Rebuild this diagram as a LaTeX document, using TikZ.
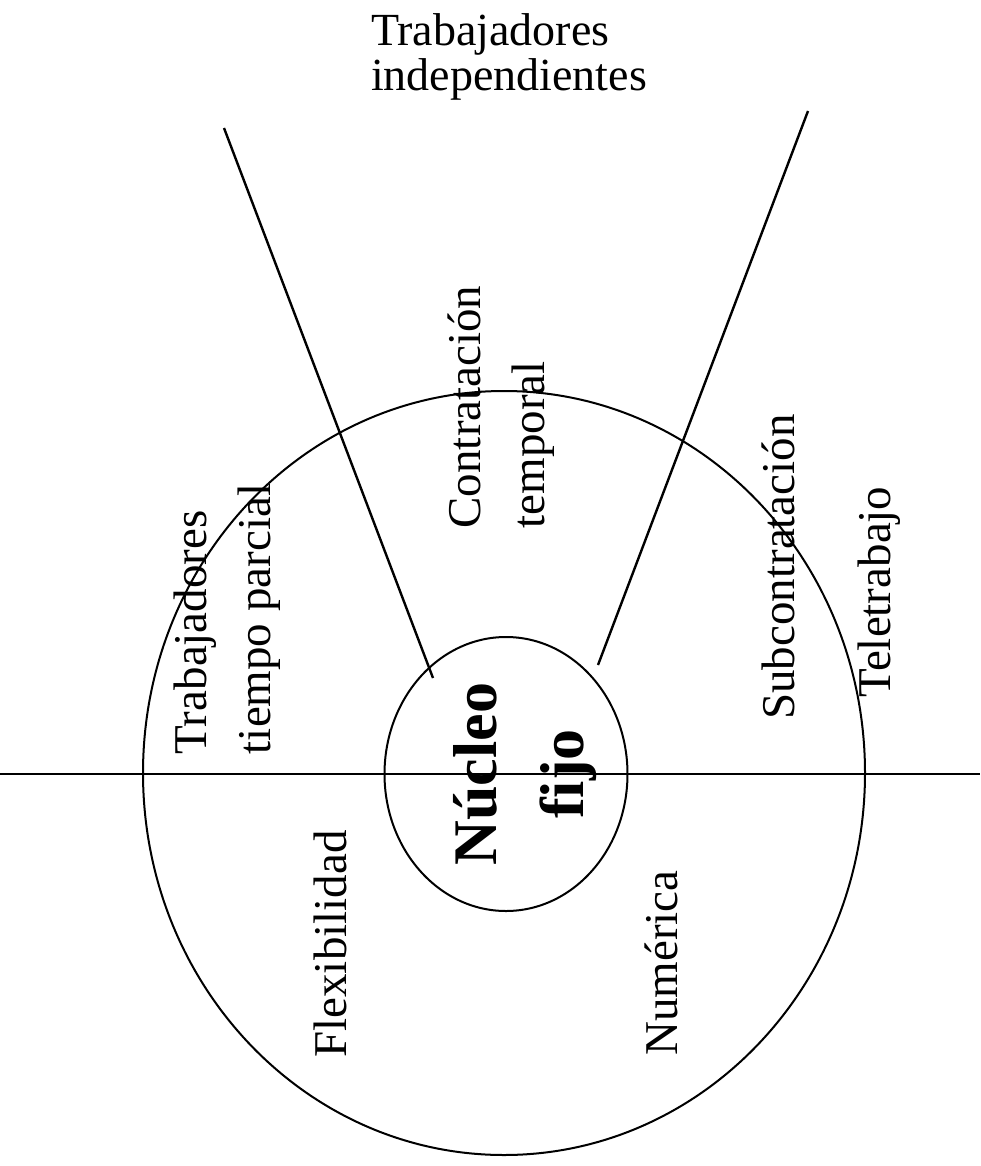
\documentclass[tikz,border=0pt]{standalone}
\usepackage{fontspec}
\setmainfont{Liberation Serif}
\usetikzlibrary{shapes.geometric}
\tikzset{
  ring/.style={draw, ellipse, line width=1pt, inner sep=0pt},
  rotlabel/.style={rotate=90, align=left, inner sep=0pt,
                   font=\fontsize{23.5}{32}\selectfont},
  corelabel/.style={rotate=90, align=center, inner sep=0pt,
                    font=\fontsize{31}{43.5}\selectfont\bfseries},
  cut/.style={line width=1.2pt},
  axis/.style={line width=1pt}}

\begin{document}
\begin{tikzpicture}[x=0.5pt, y=-0.5pt]
  \useasboundingbox (0,0) rectangle (980,1166);
  % rings
  \node[ring, minimum width=361pt, minimum height=382pt] (periferia) at (504,773) {};
  \node[ring, minimum width=121.5pt, minimum height=137pt] (nucleo) at (506,774) {};
  % axis and cuts
  \coordinate (eje-w) at (0,774);
  \coordinate (eje-e) at (980,774);
  \coordinate (ci-top) at (224,128);
  \coordinate (ci-end) at (433,678);
  \coordinate (cd-top) at (808,111);
  \coordinate (cd-end) at (598,665);
  \draw[axis] (eje-w) -- (eje-e);
  \draw[cut] (ci-top) -- (ci-end);
  \draw[cut] (cd-top) -- (cd-end);
  % labels
  \node[align=left, inner sep=0pt, font=\fontsize{23}{22.5}\selectfont] (indep) at (509,57)
    {Trabajadores\\independientes};
  \node[rotlabel] (parcial) at (227,619) {Trabajadores\\tiempo parcial};
  \node[rotlabel] (temporal) at (501,407) {Contratación\\temporal};
  \node[rotlabel] (subcontr) at (778,567) {Subcontratación};
  \node[rotlabel] (tele) at (879,592) {Teletrabajo};
  \node[rotlabel] (flex) at (330,944) {Flexibilidad};
  \node[rotlabel] (numerica) at (661,963) {Numérica};
  \node[corelabel] (nucleo-txt) at (525,774) {Núcleo\\fijo};
\end{tikzpicture}
\end{document}
